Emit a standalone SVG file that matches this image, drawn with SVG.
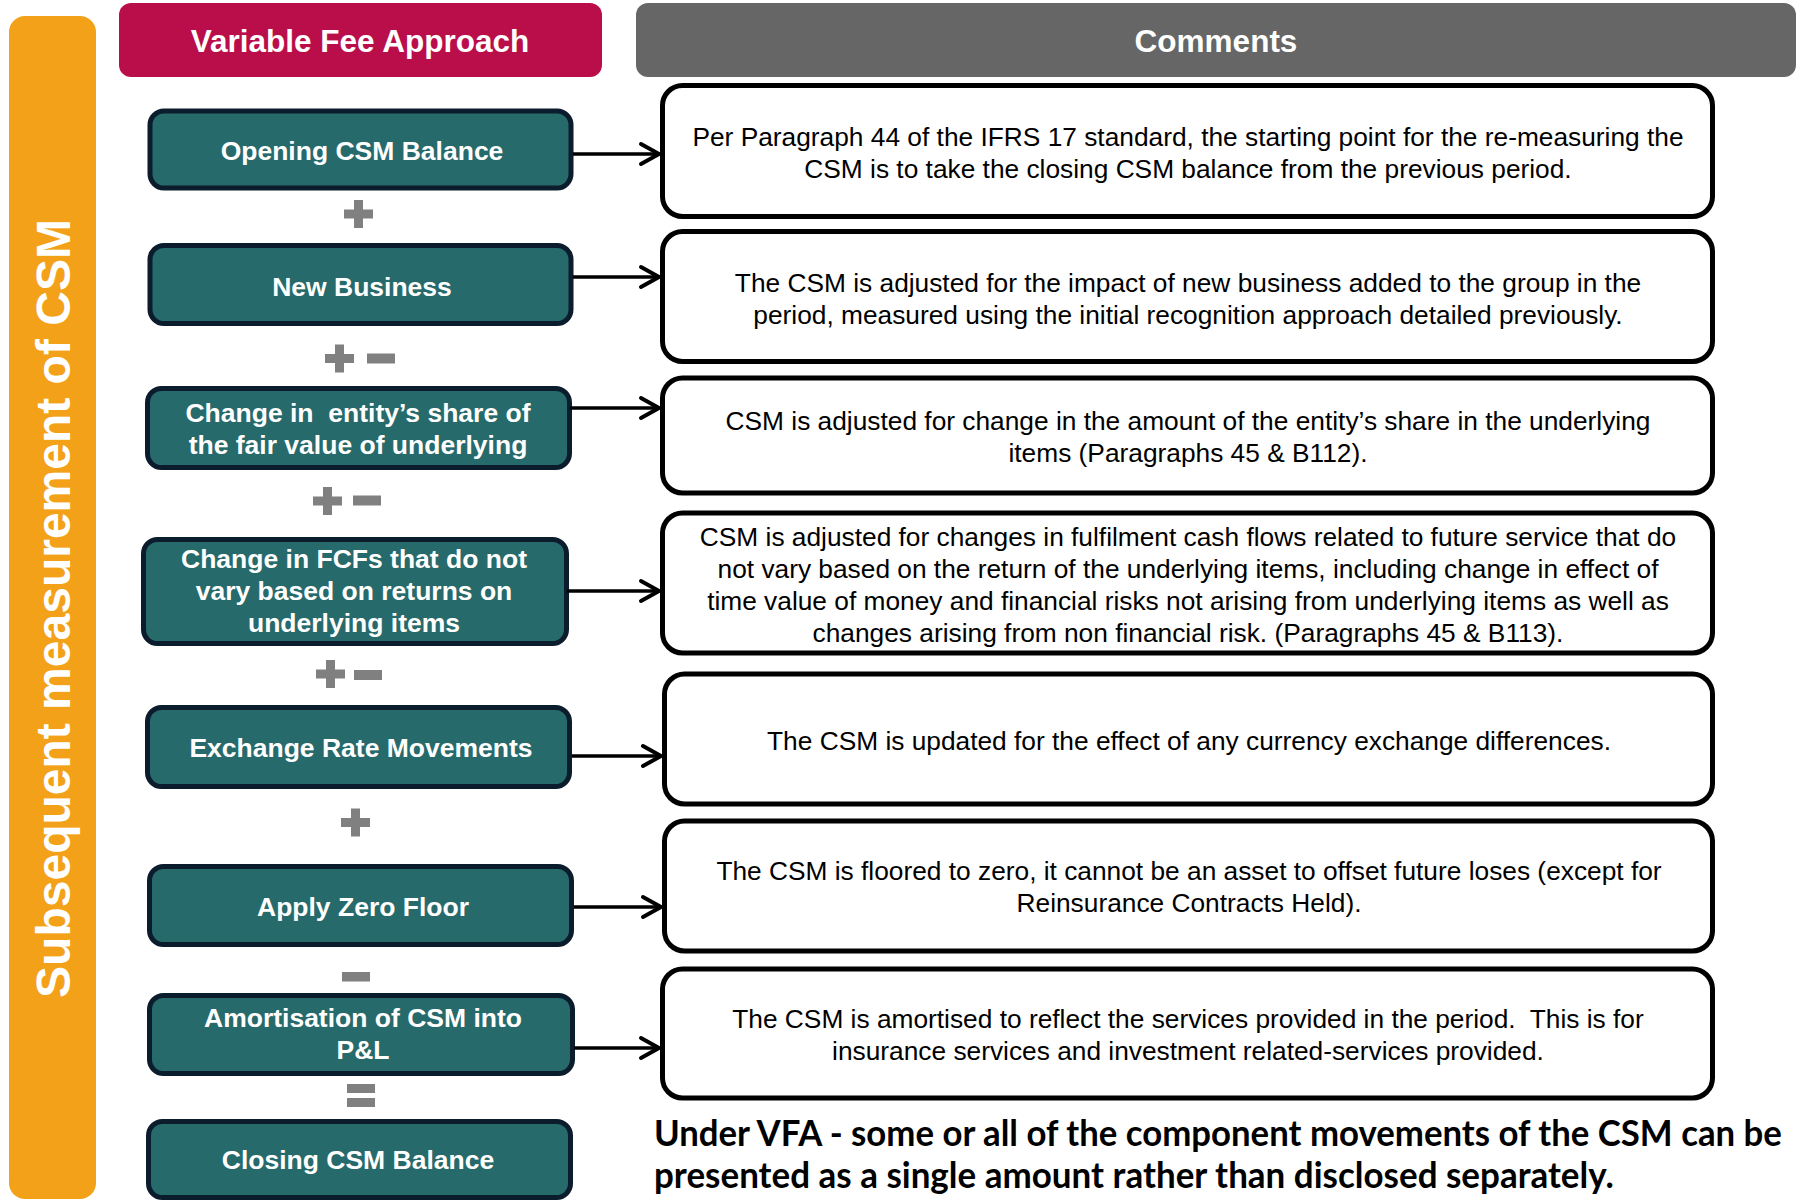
<svg xmlns="http://www.w3.org/2000/svg" width="1796" height="1201" viewBox="0 0 1796 1201">
<defs>
<style>
.hdr{font-family:"Liberation Sans",Arial,sans-serif;font-weight:bold;font-size:31.5px;fill:#fff;text-anchor:middle}
.step rect{fill:#276A6B;stroke:#0B1D2C;stroke-width:5}
.step text{font-family:"Liberation Sans",Arial,sans-serif;font-weight:bold;font-size:26.5px;fill:#fff;text-anchor:middle}
.cmt rect{fill:#fff;stroke:#000;stroke-width:5}
.cmt text{font-family:"Liberation Sans",Arial,sans-serif;font-size:26.3px;fill:#000;text-anchor:middle}
.sym{fill:#808080}
.conn line{stroke:#000;stroke-width:3.5}
.note{font-family:Lato,"Open Sans",sans-serif;font-weight:bold;font-size:36px;fill:#000}
</style>
<marker id="arr" markerWidth="26" markerHeight="28" refX="21" refY="13" orient="auto" markerUnits="userSpaceOnUse">
<path d="M3,3 L21,13 L3,23" fill="none" stroke="#000" stroke-width="4" stroke-linecap="round" stroke-linejoin="round"/>
</marker>
</defs>

<g id="side-bar">
<rect x="9" y="16" width="87" height="1183" rx="16" fill="#F4A11A"/>
<text transform="translate(70,608.5) rotate(-90)" font-family="Liberation Sans,Arial,sans-serif" font-weight="bold" font-size="48" fill="#fff" text-anchor="middle">Subsequent measurement of CSM</text>
</g>

<g id="header-vfa">
<rect x="119" y="3" width="483" height="74" rx="12" fill="#B90E4A"/>
<text class="hdr" x="360" y="52">Variable Fee Approach</text>
</g>
<g id="header-comments">
<rect x="636" y="3" width="1160" height="74" rx="12" fill="#666666"/>
<text class="hdr" x="1216" y="52">Comments</text>
</g>

<g id="step-opening" class="step">
<rect x="150" y="111" width="421" height="77" rx="14"/>
<text x="362" y="160">Opening CSM Balance</text>
</g>
<g id="step-new-business" class="step">
<rect x="150" y="245.5" width="421" height="78" rx="14"/>
<text x="362" y="296">New Business</text>
</g>
<g id="step-entity-share" class="step">
<rect x="147.5" y="388.5" width="422" height="79" rx="14"/>
<text x="358" y="422" xml:space="preserve">Change in  entity’s share of</text>
<text x="358" y="454">the fair value of underlying</text>
</g>
<g id="step-fcf" class="step">
<rect x="143.5" y="539.5" width="423" height="104" rx="14"/>
<text x="354" y="568">Change in FCFs that do not</text>
<text x="354" y="600">vary based on returns on</text>
<text x="354" y="632">underlying items</text>
</g>
<g id="step-exchange" class="step">
<rect x="147.5" y="707.5" width="422" height="79" rx="14"/>
<text x="361" y="757">Exchange Rate Movements</text>
</g>
<g id="step-zero-floor" class="step">
<rect x="149.5" y="866.5" width="422" height="78" rx="14"/>
<text x="363" y="916">Apply Zero Floor</text>
</g>
<g id="step-amortisation" class="step">
<rect x="149.5" y="995.5" width="423" height="78" rx="14"/>
<text x="363" y="1027">Amortisation of CSM into</text>
<text x="363" y="1059">P&amp;L</text>
</g>
<g id="step-closing" class="step">
<rect x="148.5" y="1121.5" width="422" height="76" rx="14"/>
<text x="358" y="1169">Closing CSM Balance</text>
</g>

<g id="operators">
<rect class="sym" x="344" y="209.5" width="29" height="9"/><rect class="sym" x="354" y="200" width="9" height="28"/>
<rect class="sym" x="325" y="354" width="29" height="9"/><rect class="sym" x="335" y="344.5" width="9" height="28"/>
<rect class="sym" x="367" y="353.5" width="28" height="10"/>
<rect class="sym" x="313" y="496.5" width="29" height="9"/><rect class="sym" x="323" y="487" width="9" height="28"/>
<rect class="sym" x="353" y="495.5" width="28" height="10"/>
<rect class="sym" x="316" y="669.5" width="29" height="9"/><rect class="sym" x="326" y="660" width="9" height="28"/>
<rect class="sym" x="354" y="670" width="28" height="10"/>
<rect class="sym" x="341" y="818" width="29" height="9"/><rect class="sym" x="351" y="808.5" width="9" height="28"/>
<rect class="sym" x="342" y="972" width="28" height="9.5"/>
<rect class="sym" x="347" y="1084" width="28" height="9"/><rect class="sym" x="347" y="1098" width="28" height="9"/>
</g>

<g id="comment-1" class="cmt">
<rect x="662.5" y="85.5" width="1050" height="131" rx="20"/>
<text x="1188" y="146">Per Paragraph 44 of the IFRS 17 standard, the starting point for the re-measuring the</text>
<text x="1188" y="178">CSM is to take the closing CSM balance from the previous period.</text>
</g>
<g id="comment-2" class="cmt">
<rect x="662.5" y="231.5" width="1050" height="130" rx="20"/>
<text x="1188" y="292">The CSM is adjusted for the impact of new business added to the group in the</text>
<text x="1188" y="324">period, measured using the initial recognition approach detailed previously.</text>
</g>
<g id="comment-3" class="cmt">
<rect x="662.5" y="378" width="1050" height="115" rx="20"/>
<text x="1188" y="430">CSM is adjusted for change in the amount of the entity’s share in the underlying</text>
<text x="1188" y="462">items (Paragraphs 45 &amp; B112).</text>
</g>
<g id="comment-4" class="cmt">
<rect x="662.5" y="513" width="1050" height="140" rx="20"/>
<text x="1188" y="546">CSM is adjusted for changes in fulfilment cash flows related to future service that do</text>
<text x="1188" y="578">not vary based on the return of the underlying items, including change in effect of</text>
<text x="1188" y="610">time value of money and financial risks not arising from underlying items as well as</text>
<text x="1188" y="642">changes arising from non financial risk. (Paragraphs 45 &amp; B113).</text>
</g>
<g id="comment-5" class="cmt">
<rect x="664.5" y="674" width="1048" height="130" rx="20"/>
<text x="1189" y="750">The CSM is updated for the effect of any currency exchange differences.</text>
</g>
<g id="comment-6" class="cmt">
<rect x="664.5" y="821" width="1048" height="130" rx="20"/>
<text x="1189" y="880">The CSM is floored to zero, it cannot be an asset to offset future loses (except for</text>
<text x="1189" y="912">Reinsurance Contracts Held).</text>
</g>
<g id="comment-7" class="cmt">
<rect x="662.5" y="969" width="1050" height="129" rx="20"/>
<text x="1188" y="1028" xml:space="preserve">The CSM is amortised to reflect the services provided in the period.  This is for</text>
<text x="1188" y="1060">insurance services and investment related-services provided.</text>
</g>

<g id="connectors" class="conn">
<line x1="573" y1="154" x2="659" y2="154" marker-end="url(#arr)"/>
<line x1="573" y1="277" x2="659" y2="277" marker-end="url(#arr)"/>
<line x1="570" y1="408" x2="659" y2="408" marker-end="url(#arr)"/>
<line x1="567" y1="591" x2="659" y2="591" marker-end="url(#arr)"/>
<line x1="572" y1="756" x2="661" y2="756" marker-end="url(#arr)"/>
<line x1="574" y1="907" x2="661" y2="907" marker-end="url(#arr)"/>
<line x1="574" y1="1048" x2="659" y2="1048" marker-end="url(#arr)"/>
</g>

<g id="note">
<text class="note" transform="translate(654,1146) scale(0.966,1)" x="0" y="0">Under VFA - some or all of the component movements of the CSM can be</text>
<text class="note" transform="translate(654,1188) scale(0.972,1)" x="0" y="0">presented as a single amount rather than disclosed separately.</text>
</g>
</svg>
